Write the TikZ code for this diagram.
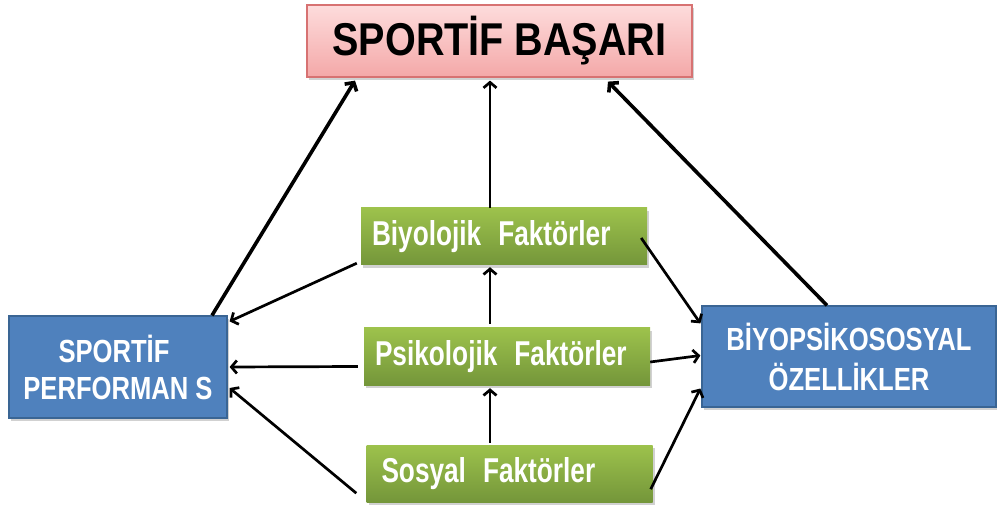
\documentclass[tikz,border=0pt]{standalone}
\usepackage{fontspec}
\setmainfont{Liberation Sans}
\newfontfamily\cf{Liberation Sans}[FakeStretch=0.86]
\newfontfamily\gfont{Liberation Sans}[FakeStretch=0.76]
\newfontfamily\bfont{Liberation Sans}[FakeStretch=0.80]
\usetikzlibrary{arrows.meta,calc,shadows}
\definecolor{pinktop}{HTML}{FDDCDC}
\definecolor{pinkbot}{HTML}{F4A8A8}
\definecolor{pinkedge}{HTML}{D77272}
\definecolor{bluefill}{HTML}{4F81BD}
\definecolor{blueedge}{HTML}{3A6594}
\definecolor{greentop}{HTML}{9DC24C}
\definecolor{greenbot}{HTML}{74963A}
\begin{document}
\begin{tikzpicture}[x=1pt,y=-1pt,
  shad/.style={drop shadow={shadow xshift=2pt,shadow yshift=-3pt,opacity=0.3,fill=black!60}},
  pinkbox/.style={draw=pinkedge,line width=1.2pt,top color=pinktop,bottom color=pinkbot,
    minimum width=385pt,minimum height=72pt,inner sep=0pt,shad,
    font=\cf\bfseries\fontsize{46}{50}\selectfont},
  bluebox/.style={draw=blueedge,line width=1.2pt,fill=bluefill,text=white,inner sep=0pt,
    align=center,shad},
  greenbox/.style={draw=none,top color=greentop,bottom color=greenbot,text=white,
    text width=264pt,inner xsep=11pt,inner ysep=0pt,minimum height=57pt,align=left,shad,
    font=\gfont\bfseries\fontsize{34.5}{38}\selectfont},
  thickarr/.style={line width=3.6pt,-{Straight Barb[length=6pt,width=14pt]}},
  thinarr/.style={line width=2.7pt,-{Straight Barb[length=5.5pt,width=13pt]}}
]
\useasboundingbox (0,0) rectangle (997,505);
\node[pinkbox] (top) at (499.5,41) {SPORTİF BAŞARI};
\node[bluebox,minimum width=218pt,minimum height=102pt,
  font=\bfont\bfseries\fontsize{32}{37}\selectfont] (lp) at (118,367) {\hspace*{-8pt}SPORTİF\\PERFORMAN S};
\node[bluebox,minimum width=294pt,minimum height=101pt,
  font=\bfont\bfseries\fontsize{32}{40}\selectfont] (rb) at (849,356.5) {BİYOPSİKOSOSYAL\\ÖZELLİKLER};
\node[greenbox] (biy) at (504,236.5) {Biyolojik\hspace{17pt}Faktörler};
\node[greenbox] (psi) at (507,356.5) {Psikolojik\hspace{17pt}Faktörler};
\node[greenbox,text width=256pt,inner xsep=15pt] (sos) at (509.5,473.5) {Sosyal\hspace{17pt}Faktörler};

\draw[thickarr] ($(lp.north)+(94,0)$) -- ($(top.south)+(-144.5,3)$);
\draw[thickarr] ($(rb.north)+(-22,0)$) -- ($(top.south)+(108.5,4)$);
\draw[thinarr] ($(biy.north)+(-14,0)$) -- ($(top.south)+(-9.5,3)$);
\draw[thinarr] ($(psi.north)+(-17,-4)$) -- ($(biy.south)+(-14,2)$);
\draw[thinarr] ($(sos.north)+(-19.5,-2)$) -- ($(psi.south)+(-17,3)$);
\draw[thinarr] ($(biy.south west)+(-4,-2)$) -- ($(lp.north east)+(2,6)$);
\draw[thinarr] ($(psi.west)+(-6,10)$) -- ($(lp.east)+(2,0)$);
\draw[thinarr] ($(sos.south west)+(-10,-9)$) -- ($(lp.east)+(2,21)$);
\draw[thinarr] ($(biy.east)+(-6,1.5)$) -- ($(rb.north west)+(-1,18)$);
\draw[thinarr] ($(psi.east)+(0,5.5)$) -- ($(rb.west)+(-1,-1)$);
\draw[thinarr] ($(sos.south east)+(-2,-13)$) -- ($(rb.west)+(-1,32)$);
\end{tikzpicture}
\end{document}
